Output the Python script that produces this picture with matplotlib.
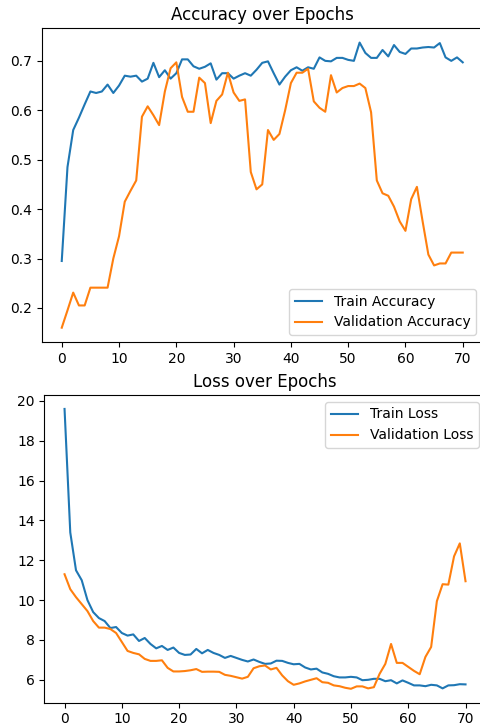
import numpy as np
import matplotlib
matplotlib.use("Agg")
import matplotlib.pyplot as plt

epochs = np.arange(71)

train_acc = [0.295, 0.485, 0.56, 0.585, 0.612, 0.638, 0.635, 0.638, 0.652, 0.635,
             0.65, 0.67, 0.668, 0.67, 0.658, 0.664, 0.696, 0.667, 0.681, 0.664,
             0.675, 0.703, 0.703, 0.689, 0.684, 0.688, 0.695, 0.662, 0.675, 0.675,
             0.664, 0.67, 0.675, 0.67, 0.682, 0.696, 0.699, 0.675, 0.652, 0.668,
             0.681, 0.687, 0.68, 0.687, 0.684, 0.707, 0.70, 0.699, 0.706, 0.706,
             0.702, 0.70, 0.737, 0.716, 0.706, 0.706, 0.722, 0.709, 0.732, 0.718,
             0.714, 0.725, 0.725, 0.727, 0.728, 0.727, 0.736, 0.707, 0.70, 0.707,
             0.697]
val_acc = [0.16, 0.195, 0.231, 0.205, 0.205, 0.241, 0.241, 0.241, 0.241, 0.30,
           0.345, 0.415, 0.437, 0.458, 0.587, 0.608, 0.59, 0.57, 0.638, 0.685,
           0.697, 0.627, 0.597, 0.597, 0.666, 0.655, 0.574, 0.619, 0.632, 0.676,
           0.636, 0.619, 0.622, 0.475, 0.44, 0.45, 0.56, 0.54, 0.552, 0.60,
           0.655, 0.676, 0.676, 0.684, 0.618, 0.605, 0.597, 0.671, 0.636, 0.645,
           0.649, 0.649, 0.654, 0.645, 0.596, 0.458, 0.432, 0.427, 0.405, 0.375,
           0.356, 0.42, 0.445, 0.375, 0.308, 0.286, 0.29, 0.29, 0.312, 0.312,
           0.312]

train_loss = [19.6, 13.4, 11.5, 11.0, 10.0, 9.4, 9.1, 8.95, 8.6, 8.65,
              8.35, 8.22, 8.28, 7.95, 8.1, 7.8, 7.58, 7.7, 7.5, 7.62,
              7.35, 7.25, 7.27, 7.55, 7.33, 7.5, 7.35, 7.25, 7.1, 7.2,
              7.1, 7.0, 6.92, 7.02, 6.9, 6.8, 6.82, 6.96, 6.95, 6.85,
              6.78, 6.8, 6.62, 6.52, 6.56, 6.37, 6.3, 6.18, 6.12, 6.12,
              6.15, 6.12, 5.98, 6.0, 6.05, 6.05, 5.93, 5.98, 5.82, 5.97,
              5.85, 5.72, 5.72, 5.68, 5.75, 5.72, 5.57, 5.72, 5.73, 5.78,
              5.77]
val_loss = [11.3, 10.55, 10.15, 9.8, 9.45, 8.95, 8.62, 8.62, 8.55, 8.35,
            7.9, 7.45, 7.35, 7.28, 7.05, 6.95, 6.95, 6.98, 6.6, 6.42,
            6.42, 6.44, 6.48, 6.54, 6.4, 6.41, 6.41, 6.4, 6.25, 6.2,
            6.13, 6.06, 6.15, 6.58, 6.68, 6.72, 6.52, 6.6, 6.22, 5.93,
            5.75, 5.82, 5.92, 6.0, 6.08, 5.88, 5.85, 5.72, 5.68, 5.6,
            5.55, 5.67, 5.67, 5.57, 5.63, 6.3, 6.8, 7.8, 6.85, 6.85,
            6.65, 6.45, 6.28, 7.15, 7.65, 9.95, 10.8, 10.78, 12.2, 12.85,
            10.95]

fig = plt.figure(figsize=(4.81, 7.26), dpi=100)

# accuracy plot
ax1 = fig.add_axes([0.0867, 0.529, 0.917, 0.432])
ax1.plot(epochs, train_acc, label='Train Accuracy')
ax1.plot(epochs, val_acc, label='Validation Accuracy')
ax1.set_title('Accuracy over Epochs', fontsize=12)
ax1.set_yticks([0.2, 0.3, 0.4, 0.5, 0.6, 0.7])
ax1.set_xticks([0, 10, 20, 30, 40, 50, 60, 70])
ax1.legend(loc='lower right')

# loss plot
ax2 = fig.add_axes([0.0925, 0.032, 0.917, 0.424])
ax2.plot(epochs, train_loss, label='Train Loss')
ax2.plot(epochs, val_loss, label='Validation Loss')
ax2.set_title('Loss over Epochs', fontsize=12)
ax2.set_xticks([0, 10, 20, 30, 40, 50, 60, 70])
ax2.legend(loc='upper right')

fig.savefig('out.png', dpi=100)
